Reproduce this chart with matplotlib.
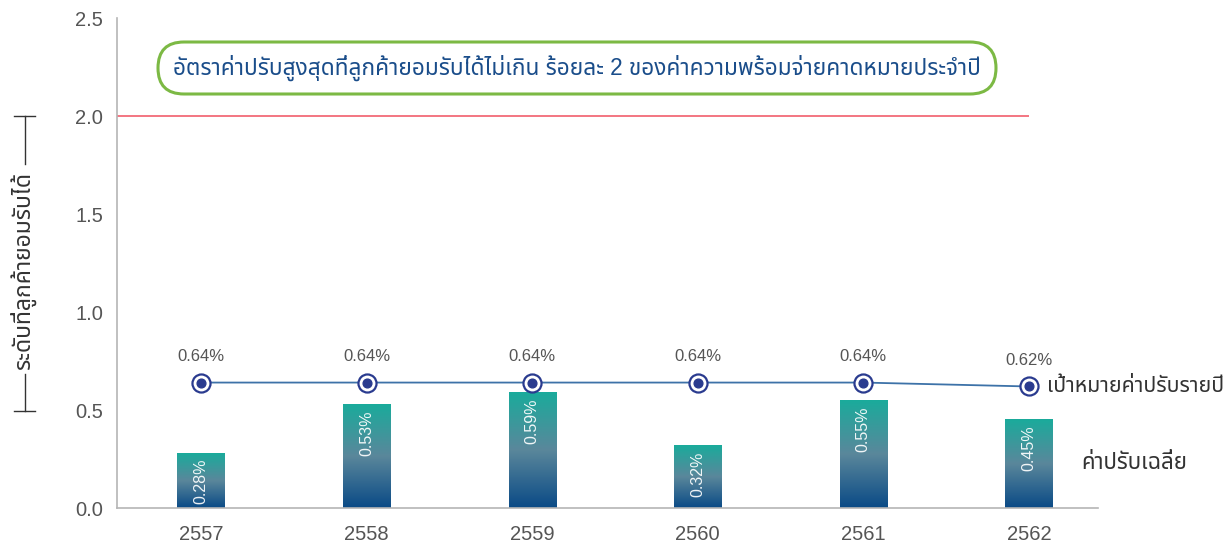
import numpy as np
import matplotlib
matplotlib.use("Agg")
import matplotlib.pyplot as plt
from matplotlib.colors import LinearSegmentedColormap
from matplotlib.lines import Line2D
from matplotlib.patches import FancyBboxPatch

# ค่าปรับเฉลี่ยและเป้าหมายค่าปรับรายปี (%)
years = ["2557", "2558", "2559", "2560", "2561", "2562"]
avg_fine = [0.28, 0.53, 0.59, 0.32, 0.55, 0.45]
target_fine = [0.64, 0.64, 0.64, 0.64, 0.64, 0.62]
max_fine = 2.0
yticks = [0.0, 0.5, 1.0, 1.5, 2.0, 2.5]

title = "อัตราค่าปรับสูงสุดที่ลูกค้ายอมรับได้ไม่เกิน ร้อยละ 2 ของค่าความพร้อมจ่ายคาดหมายประจำปี"
ylabel = "ระดับที่ลูกค้ายอมรับได้"
target_name = "เป้าหมายค่าปรับรายปี"
avg_name = "ค่าปรับเฉลี่ย"

plt.rcParams['font.family'] = ['Liberation Sans', 'Noto Sans Thai', 'DejaVu Sans']

W, H = 1232, 548
fig = plt.figure(figsize=(W / 100, H / 100), dpi=100)
ax = fig.add_axes([117 / W, 40 / H, 981 / W, 490 / H])

x = np.arange(len(years))
bar_w = 0.285
navy = "#2a3b8f"

# แท่งไล่สี: น้ำเงินเข้มด้านล่าง -> เขียวอมฟ้าด้านบน
grad = LinearSegmentedColormap.from_list("bar", ["#0a4a86", "#5a879b", "#1aab9b"])
g = np.linspace(0, 1, 256).reshape(-1, 1)
for xi, v in zip(x, avg_fine):
    ax.imshow(g, cmap=grad, origin="lower", aspect="auto",
              extent=(xi - bar_w / 2, xi + bar_w / 2, 0, v), zorder=2)
    ax.text(xi, v - 0.03, f"{v:.2f}%", rotation=90, ha="center", va="top",
            color="white", alpha=0.92, fontsize=11.5, zorder=3)

# เส้นเป้าหมาย
ax.plot(x, target_fine, color="#3d72a8", lw=1.3, zorder=4)
ax.plot(x, target_fine, "o", ms=13, mfc="white", mec=navy, mew=1.6, zorder=5)
ax.plot(x, target_fine, "o", ms=6.3, color=navy, zorder=6)
for xi, v in zip(x, target_fine):
    ax.annotate(f"{v:.2f}%", (xi, v), xytext=(0, 19), textcoords="offset points",
                ha="center", va="center", fontsize=12, color="#555")

ax.set_xlim(-0.507, 5.417)
ax.set_ylim(0, 2.5)

# เส้นเพดานค่าปรับ 2%
ax.hlines(max_fine, -0.507, x[-1], color="#f26a77", lw=1.3, zorder=1)

ax.annotate(target_name, (x[-1], target_fine[-1]), xytext=(13, 0),
            textcoords="offset points", ha="left", va="center",
            fontsize=15.3, color="#333", annotation_clip=False)
ax.annotate(avg_name, (x[-1] + bar_w / 2, avg_fine[-1] / 2), xytext=(21, 0),
            textcoords="offset points", ha="left", va="center",
            fontsize=16, color="#333", annotation_clip=False)

ax.set_xticks(x)
ax.set_xticklabels(years)
ax.set_yticks(yticks)
ax.set_yticklabels([f"{t:.1f}" for t in yticks])
ax.tick_params(axis="both", length=0, labelsize=14.5, labelcolor="#555")
ax.tick_params(axis="y", pad=10)
ax.tick_params(axis="x", pad=12)
for s in ["top", "right"]:
    ax.spines[s].set_visible(False)
for s in ["left", "bottom"]:
    ax.spines[s].set_color("#b5b5b5")
    ax.spines[s].set_linewidth(1.2)

# กล่องหัวข้อ (ขอบมน)
box = FancyBboxPatch((1.58, 4.54), 8.38, 0.52,
                     boxstyle="round,pad=0,rounding_size=0.26",
                     transform=fig.dpi_scale_trans, fc="white", ec="#7cb944", lw=2.2)
fig.add_artist(box)
fig.text(577 / W, 1 - 68 / H, title, ha="center", va="center", fontsize=16.3,
         color="#1a4d8a")

# ป้ายแกน y พร้อมเส้นกำกับ
fig.text(23 / W, 1 - 271 / H, ylabel, rotation=90, ha="center", va="center",
         fontsize=16.5, color="#333")
lx = 24.6 / W
for y0, y1 in [(116, 164), (374, 411)]:
    fig.add_artist(Line2D([lx, lx], [1 - y0 / H, 1 - y1 / H], color="#333", lw=1))
for yc in [116, 411]:
    fig.add_artist(Line2D([14 / W, 35 / W], [1 - yc / H, 1 - yc / H], color="#333", lw=1))

fig.savefig("out.png", dpi=100)
